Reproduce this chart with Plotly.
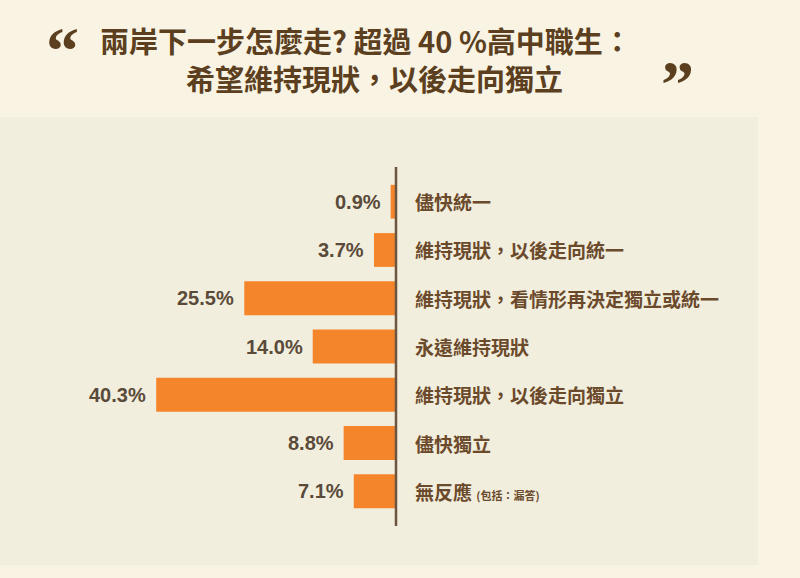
import plotly.graph_objects as go

# survey answers, top to bottom
categories = [
    "儘快統一",
    "維持現狀，以後走向統一",
    "維持現狀，看情形再決定獨立或統一",
    "永遠維持現狀",
    "維持現狀，以後走向獨立",
    "儘快獨立",
    "無反應",
]
values = [0.9, 3.7, 25.5, 14.0, 40.3, 8.8, 7.1]
notes = ["", "", "", "", "", "", "(包括：漏答)"]

title_1 = "兩岸下一步怎麼走? 超過 40 %高中職生："
title_2 = "希望維持現狀，以後走向獨立"

W, H = 800, 578
PLOT_TOP, PLOT_BOTTOM = 167, 526


def py(p):
    # pixel row -> paper y
    return (PLOT_BOTTOM - p) / (PLOT_BOTTOM - PLOT_TOP)


BG = "#f8f3e2"
PANEL = "#f2eedd"
ORANGE = "#f5852a"
BROWN = "#5c3f1f"
LABEL = "#6b4a2c"
VALUE = "#5a4a3a"
CJK = "Noto Sans CJK TC"

fig = go.Figure()
fig.add_trace(go.Bar(
    x=[-v for v in values], y=categories, orientation="h",
    marker=dict(color=ORANGE, line=dict(width=0)), width=0.7,
    hoverinfo="skip", showlegend=False,
))

# category labels right of the axis, values left of each bar
for cat, v, note in zip(categories, values, notes):
    txt = cat
    if note:
        txt += ' <span style="font-size:11px">' + note + "</span>"
    fig.add_annotation(
        x=0, y=cat, xref="x", yref="y", text=txt, showarrow=False,
        xanchor="left", yanchor="middle", xshift=17,
        font=dict(family=CJK, size=19, color=LABEL, weight="bold"),
    )
    fig.add_annotation(
        x=-v, y=cat, xref="x", yref="y", text=f"{v:.1f}%", showarrow=False,
        xanchor="right", yanchor="middle", xshift=-8,
        font=dict(family="Liberation Sans", size=20, color=VALUE, weight="bold"),
    )

# title and quote marks
fig.add_annotation(
    x=366 / W, y=py(40), xref="paper", yref="paper", text=title_1,
    showarrow=False, xanchor="center", yanchor="middle",
    font=dict(family=CJK, size=29, color=BROWN, weight="bold"),
)
fig.add_annotation(
    x=374 / W, y=py(78), xref="paper", yref="paper", text=title_2,
    showarrow=False, xanchor="center", yanchor="middle",
    font=dict(family=CJK, size=29, color=BROWN, weight="bold"),
)
fig.add_annotation(
    x=62 / W, y=py(50), xref="paper", yref="paper", text="“",
    showarrow=False, xanchor="center", yanchor="middle",
    font=dict(family="Liberation Serif", size=66, color=BROWN, weight="bold"),
)
fig.add_annotation(
    x=677 / W, y=py(84), xref="paper", yref="paper", text="”",
    showarrow=False, xanchor="center", yanchor="middle",
    font=dict(family="Liberation Serif", size=66, color=BROWN, weight="bold"),
)

# light panel behind the chart and the vertical axis line
fig.add_shape(
    type="rect", xref="paper", yref="paper",
    x0=0, x1=758 / W, y0=py(565), y1=py(117),
    fillcolor=PANEL, line=dict(width=0), layer="below",
)
fig.add_shape(
    type="line", xref="x", yref="paper", x0=0, x1=0, y0=0, y1=1,
    line=dict(color="#6b5440", width=2.5),
)

scale = 5.95  # px per percent
fig.update_xaxes(
    range=[-396 / scale, (W - 396) / scale],
    visible=False, showgrid=False, zeroline=False, fixedrange=True,
)
fig.update_yaxes(
    range=[6.72, -0.72], visible=False, showgrid=False, zeroline=False,
    fixedrange=True,
)
fig.update_layout(
    width=W, height=H,
    margin=dict(l=0, r=0, t=PLOT_TOP, b=H - PLOT_BOTTOM),
    paper_bgcolor=BG, plot_bgcolor="rgba(0,0,0,0)",
    bargap=0.3, showlegend=False,
)

fig.write_html(
    "out.html",
    config={"displayModeBar": False},
    post_script="document.body.style.margin='0';document.body.style.background='" + BG + "';",
)
